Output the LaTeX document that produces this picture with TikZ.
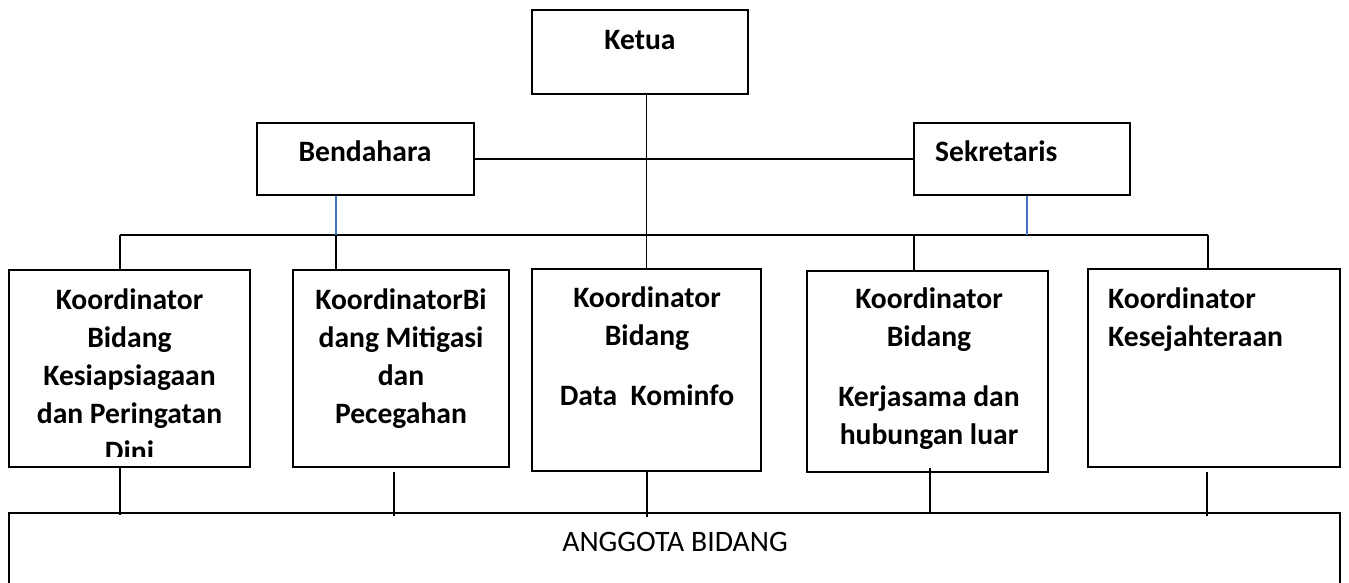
\documentclass[tikz,border=0pt]{standalone}
\usepackage{fontspec}
\setmainfont{Carlito}
\definecolor{wordblue}{HTML}{4472C4}
\begin{document}
\begin{tikzpicture}[x=1pt,y=-1pt,
  box/.style={draw=black, line width=2pt, rectangle, inner sep=0pt},
  conn/.style={draw=black, line width=1.8pt},
  blueconn/.style={draw=wordblue, line width=1.3pt},
  lbl/.style={inner sep=0pt, anchor=base, font=\fontsize{29.6}{38}\selectfont\bfseries},
  plain/.style={inner sep=0pt, anchor=base, font=\fontsize{29.7}{36}\selectfont}]
\useasboundingbox (0,0) rectangle (1349,583);
\clip (0,0) rectangle (1349,583);

% boxes
\node[box, minimum width=216, minimum height=84] (ketua) at (640,52) {};
\node[box, minimum width=217, minimum height=72] (bendahara) at (365.5,159) {};
\node[box, minimum width=216, minimum height=72] (sekretaris) at (1022,159) {};
\node[box, minimum width=241, minimum height=197] (k1) at (129.5,368.5) {};
\node[box, minimum width=216, minimum height=197] (k2) at (401,368.5) {};
\node[box, minimum width=229, minimum height=202] (k3) at (646.5,370) {};
\node[box, minimum width=241, minimum height=201] (k4) at (927.5,371.5) {};
\node[box, minimum width=252, minimum height=198] (k5) at (1214,368) {};
\node[draw=black, line width=1.4pt, rectangle, inner sep=0pt, minimum width=1331, minimum height=140] (anggota) at (674.5,583) {};

% texts
\node[lbl] (tketua) at (640,49.3) {Ketua};
\node[lbl] (tbend) at (365,161.7) {Bendahara};
\node[lbl, anchor=base west] (tsekr) at (935,161.7) {Sekretaris};
\begin{scope}
  \clip ([yshift=12pt]k1.south west) rectangle (k1.north east);
  \node[lbl] (t1) at (129.5,309) {\begin{tabular}[t]{@{}c@{}}Koordinator\\Bidang\\Kesiapsiagaan\\dan Peringatan\\Dini\end{tabular}};
\end{scope}
\node[lbl] (t2) at (401,309) {\begin{tabular}[t]{@{}c@{}}KoordinatorBi\\dang Mitigasi\\dan\\Pecegahan\end{tabular}};
\node[lbl] (t3) at (647,307.7) {\begin{tabular}[t]{@{}c@{}}Koordinator\\Bidang\\[22pt]Data~~Kominfo\end{tabular}};
\node[lbl] (t4) at (929,308) {\begin{tabular}[t]{@{}c@{}}Koordinator\\Bidang\\[22pt]Kerjasama dan\\hubungan luar\end{tabular}};
\node[lbl, anchor=base west] (t5) at (1108,308) {\begin{tabular}[t]{@{}l@{}}Koordinator\\Kesejahteraan\end{tabular}};
\node[plain] (tangg) at (675,551.7) {ANGGOTA BIDANG};

% bus coordinates
\coordinate (busL) at (120,235);
\coordinate (b2) at (336,235);
\coordinate (b4) at (914,235);
\coordinate (bs) at (1027,235);
\coordinate (busR) at (1208,235);
\coordinate (a1) at (120,515);
\coordinate (a2) at (394,516);
\coordinate (a3) at (647,517);
\coordinate (a4) at (930,514);
\coordinate (a5) at (1207,516);

% connectors
\draw[conn] (ketua.south -| k3.north) -- (k3.north);
\draw[conn] (bendahara.east) -- (sekretaris.west);
\draw[conn] (busL) -- (busR);
\draw[conn] (busL) -- (busL |- k1.north);
\draw[conn] (b2) -- (b2 |- k2.north);
\draw[conn] (b4) -- (b4 |- k4.north);
\draw[conn] (busR) -- (busR |- k5.north);
\draw[blueconn] (bendahara.south -| b2) -- (b2);
\draw[blueconn] (sekretaris.south -| bs) -- (bs);
\draw[conn] (k1.south -| a1) -- (a1);
\draw[conn] ([yshift=-4pt]k2.south -| a2) -- (a2);
\draw[conn] (k3.south -| a3) -- (a3);
\draw[conn] ([yshift=5pt]k4.south -| a4) -- (a4);
\draw[conn] ([yshift=-4pt]k5.south -| a5) -- (a5);
\end{tikzpicture}
\end{document}
